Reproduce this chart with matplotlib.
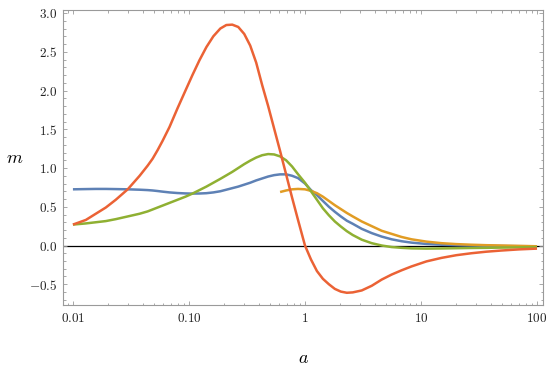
"""Recreate the four-curve m(a) plot (log a axis, Mathematica-like frame)."""

import matplotlib
matplotlib.use("Agg")
import matplotlib.pyplot as plt
from matplotlib.ticker import FixedLocator, FixedFormatter, LogLocator, MultipleLocator, NullFormatter

plt.rcParams["mathtext.fontset"] = "cm"

# ---------------------------------------------------------------------------
# Data
# ---------------------------------------------------------------------------

# sample points along a, shared by the blue, green and red curves
a_grid = [0.01, 0.01293, 0.01575, 0.0192, 0.02339, 0.02966, 0.03759, 0.04403,
          0.04862, 0.05365, 0.05923, 0.06801, 0.07966, 0.09333, 0.1072, 0.1231,
          0.1413, 0.1623, 0.1864, 0.2099, 0.2362, 0.266, 0.2995, 0.3372,
          0.3797, 0.4275, 0.4814, 0.5419, 0.6101, 0.687, 0.7735, 0.8709,
          1.0, 1.126, 1.268, 1.427, 1.607, 1.809, 2.037, 2.294,
          2.582, 3.085, 3.759, 4.581, 5.583, 6.803, 8.287, 11.15,
          15.0, 20.17, 27.14, 36.49, 49.1, 70.05, 100]

red_m = [0.27, 0.33, 0.41, 0.49, 0.59, 0.725, 0.90, 1.03,
         1.12, 1.23, 1.35, 1.53, 1.77, 2.00, 2.20, 2.39,
         2.56, 2.70, 2.80, 2.845, 2.85, 2.82, 2.73, 2.58,
         2.36, 2.07, 1.80, 1.51, 1.22, 0.92, 0.62, 0.33,
         0.0, -0.18, -0.33, -0.43, -0.50, -0.56, -0.595, -0.61,
         -0.605, -0.58, -0.52, -0.44, -0.375, -0.32, -0.27, -0.205,
         -0.16, -0.125, -0.10, -0.08, -0.065, -0.05, -0.04]

blue_m = [0.725, 0.728, 0.73, 0.73, 0.728, 0.725, 0.72, 0.715,
          0.71, 0.703, 0.695, 0.685, 0.677, 0.672, 0.67, 0.671,
          0.675, 0.685, 0.70, 0.72, 0.74, 0.76, 0.785, 0.81,
          0.84, 0.865, 0.89, 0.908, 0.918, 0.918, 0.90, 0.87,
          0.80, 0.715, 0.65, 0.575, 0.50, 0.435, 0.375, 0.32,
          0.28, 0.215, 0.16, 0.115, 0.08, 0.055, 0.037, 0.02,
          0.01, 0.004, 0.0, -0.004, -0.007, -0.009, -0.01]

green_m = [0.27, 0.285, 0.30, 0.315, 0.34, 0.375, 0.41, 0.44,
           0.465, 0.49, 0.515, 0.55, 0.59, 0.63, 0.67, 0.715,
           0.76, 0.81, 0.86, 0.905, 0.95, 1.0, 1.05, 1.095,
           1.135, 1.165, 1.18, 1.175, 1.15, 1.10, 1.02, 0.92,
           0.81, 0.70, 0.59, 0.48, 0.39, 0.31, 0.245, 0.185,
           0.135, 0.075, 0.03, 0.0, -0.02, -0.03, -0.037, -0.04,
           -0.038, -0.035, -0.032, -0.03, -0.027, -0.024, -0.02]

# the orange curve only starts near a = 0.6
orange_a = [0.6101, 0.687, 0.7735, 0.8709, 1.0, 1.126, 1.268, 1.427,
            1.607, 1.809, 2.037, 2.294, 2.582, 3.085, 3.759, 4.581,
            5.583, 6.803, 8.287, 11.15, 15.0, 20.17, 27.14, 36.49,
            49.1, 70.05, 100]
orange_m = [0.69, 0.71, 0.725, 0.73, 0.725, 0.705, 0.675, 0.63,
            0.575, 0.52, 0.47, 0.42, 0.375, 0.31, 0.25, 0.19,
            0.15, 0.11, 0.08, 0.05, 0.03, 0.018, 0.01, 0.004,
            0.0, -0.005, -0.01]

x_ticks = [0.01, 0.1, 1, 10, 100]
x_tick_labels = ["0.01", "0.10", "1", "10", "100"]
y_ticks = [-0.5, 0.0, 0.5, 1.0, 1.5, 2.0, 2.5, 3.0]

# ---------------------------------------------------------------------------
# Plot
# ---------------------------------------------------------------------------

fig = plt.figure(figsize=(5.55, 3.69), dpi=100)
ax = fig.add_axes([0.1135, 0.1734, 0.8649, 0.7995])

ax.axhline(0, color="black", linewidth=0.9, zorder=1)

series = [
    (a_grid, blue_m, "#5E81B5"),
    (orange_a, orange_m, "#E19C24"),
    (a_grid, green_m, "#8FB032"),
    (a_grid, red_m, "#EB6235"),
]
for xs, ys, color in series:
    ax.plot(xs, ys, color=color, linewidth=1.8, solid_capstyle="butt",
            solid_joinstyle="round", zorder=2)

ax.set_xscale("log")
ax.set_xlim(0.00821, 112.6)
ax.set_ylim(-0.768, 3.039)

ax.xaxis.set_major_locator(FixedLocator(x_ticks))
ax.xaxis.set_major_formatter(FixedFormatter(["$%s$" % s for s in x_tick_labels]))
ax.xaxis.set_minor_locator(LogLocator(base=10, subs=range(2, 10)))
ax.xaxis.set_minor_formatter(NullFormatter())

ax.yaxis.set_major_locator(FixedLocator(y_ticks))
ax.yaxis.set_major_formatter(FixedFormatter(["$%.1f$" % v for v in y_ticks]))
ax.yaxis.set_minor_locator(MultipleLocator(0.1))

frame = "#9a9a9a"
for sp in ax.spines.values():
    sp.set_color(frame)
    sp.set_linewidth(0.8)

ax.tick_params(which="both", direction="in", top=True, right=True,
               color=frame, width=0.6, labelcolor="#222222")
ax.tick_params(which="major", length=3.2, labelsize=9.5)
ax.tick_params(which="minor", length=1.8)
ax.tick_params(axis="x", pad=5)
ax.tick_params(axis="y", pad=4)

ax.set_xlabel("$a$", fontsize=13)
ax.xaxis.set_label_coords(0.502, -0.18)
ax.xaxis.label.set_va("center")
ax.set_ylabel("$m$", fontsize=13, rotation=0)
ax.yaxis.set_label_coords(-0.1, 0.5)
ax.yaxis.label.set_va("center")
ax.yaxis.label.set_ha("center")

fig.savefig("out.png", dpi=100)
